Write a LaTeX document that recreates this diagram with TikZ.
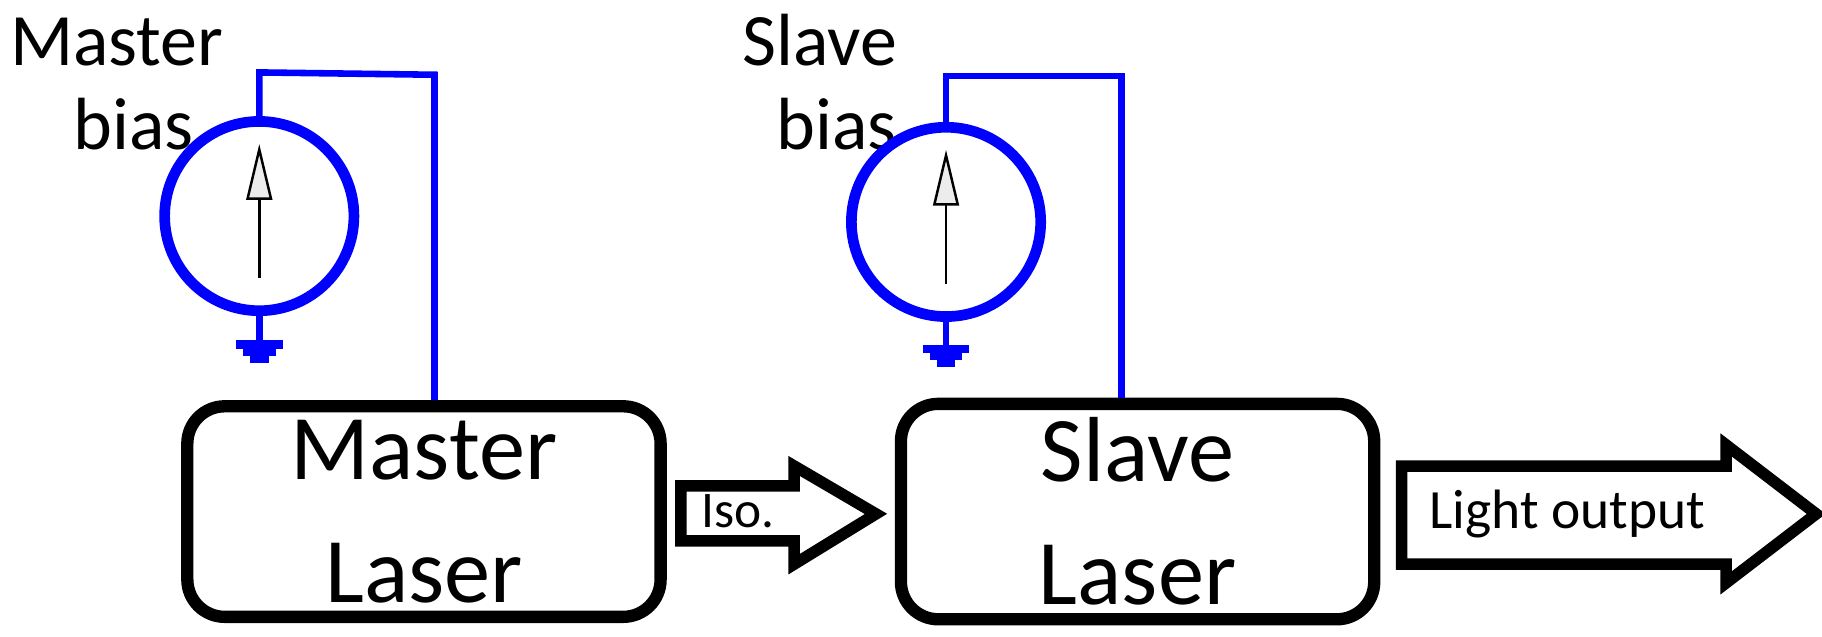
\documentclass[tikz,border=0pt]{standalone}
\usepackage{fontspec}
\setmainfont{Carlito}
\begin{document}
\begin{tikzpicture}[x=0.01cm,y=-0.01cm,
  wire/.style={blue,line width=1.6pt},
  src/.style={circle,draw=blue,line width=2.6pt,minimum size=1.62cm,inner sep=0pt},
  laser/.style={draw,line width=3pt,rounded corners=0.32cm,minimum width=4.05cm,minimum height=1.72cm,align=center,font=\fontsize{22.5}{28}\selectfont},
  lbl/.style={align=center,font=\fontsize{18}{20.5}\selectfont},
  fat/.style={draw,line width=2.8pt,fill=white,line join=miter}]
\useasboundingbox (0,0) rectangle (1560,545);
% labels
\node[lbl] (ml) at (100,72) {Master\\\ \ bias};
\node[lbl] (sl) at (702,70) {Slave\\\ \ bias};
% sources
\node[src] (ms) at (222,185) {};
\node[src] (ss) at (810,190) {};
% lasers
\node[laser] (mb) at (363,438) {Master\\[2pt]Laser};
\node[laser] (sb) at (974,438) {Slave\\[2pt]Laser};
% wires
\coordinate (m1) at (222,62); \coordinate (m2) at (372,64);
\draw[wire] (ms.north) -- (m1) -- (m2) -- (m2 |- mb.north);
\coordinate (s1) at (810,65); \coordinate (s2) at (960,65);
\draw[wire] (ss.north) -- (s1) -- (s2) -- (s2 |- sb.north);
% grounds
\foreach \s/\x/\y in {ms/222/295, ss/810/299}{
  \coordinate (g\s) at (\x,\y);
  \draw[wire] (\s.south) -- (g\s);
  \draw[blue,line width=2pt] (\x-20,\y) -- (\x+20,\y) (\x-14,\y+6) -- (\x+14,\y+6) (\x-8,\y+12) -- (\x+8,\y+12);
}
% inner arrows
\foreach \x/\y in {222/185, 810/190}{
  \draw[line width=0.6pt] (\x,\y+53) -- (\x,\y-15);
  \draw[line width=0.6pt,fill=gray!15] (\x,\y-57) -- (\x+10,\y-15) -- (\x-10,\y-15) -- cycle;
}
% Iso arrow
\draw[fat] (583,416) -- (680,416) -- (680,399) -- (750,440) -- (680,483) -- (680,463) -- (583,463) -- cycle;
\node[font=\fontsize{12.5}{14}\selectfont] (iso) at (632,438) {Iso.};
% light output
\draw[fat] (1200,399) -- (1478,399) -- (1478,381) -- (1555,440) -- (1478,499) -- (1478,483) -- (1200,483) -- cycle;
\node[font=\fontsize{13.5}{15}\selectfont] (lo) at (1342,440) {Light output};
\end{tikzpicture}
\end{document}
